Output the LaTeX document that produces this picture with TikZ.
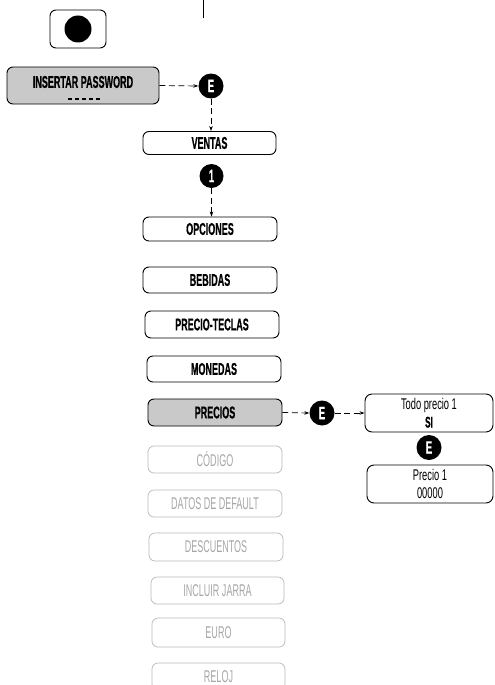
\documentclass[tikz,border=0pt]{standalone}
\usepackage{fontspec}
\newfontfamily\cond{Liberation Sans}[FakeStretch=0.53, BoldFeatures={FakeBold=0.6}]
\newfontfamily\condl{Liberation Sans}[FakeStretch=0.6, BoldFeatures={FakeBold=0.6}]
\usetikzlibrary{arrows.meta}
\definecolor{panelgray}{HTML}{C9C9C9}
\definecolor{offline}{HTML}{B8B8B8}
\definecolor{offtext}{HTML}{A6A6A6}
\begin{document}
\begin{tikzpicture}[x=1pt,y=-1pt,
  menu/.style={draw=black, line width=0.9pt, rounded corners=6pt,
    minimum width=134pt, minimum height=26pt, inner sep=0pt,
    font=\cond\fontsize{17}{18}\selectfont\bfseries},
  active/.style={menu, fill=panelgray},
  inactive/.style={menu, draw=offline, line width=0.7pt, text=offtext,
    font=\cond\fontsize{17}{18}\selectfont},
  display/.style={draw=black, line width=0.9pt, rounded corners=7pt,
    minimum width=128pt, minimum height=38pt, inner sep=0pt, align=center,
    font=\condl\fontsize{15.5}{18}\selectfont},
  badge/.style={circle, fill=black, minimum size=25pt, inner sep=0pt,
    text=white, font=\cond\fontsize{18}{18}\selectfont\bfseries},
  flow/.style={dash pattern=on 6pt off 3.5pt, line width=0.7pt,
    -{Stealth[length=5pt,width=3.5pt]}},
]
\useasboundingbox (0,0) rectangle (495,685);
\clip (0,0) rectangle (495,685);

% feed wire at the top
\coordinate (wireTop) at (203,0);
\coordinate (wireEnd) at (203,18);
\draw[line width=0.8pt] (wireTop) -- (wireEnd);

% power key
\node[draw=black, line width=0.9pt, rounded corners=6pt,
  minimum width=56pt, minimum height=38pt] (power) at (78,29) {};
\node[circle, fill=black, minimum size=27pt, inner sep=0pt] (powerdot) at (power.center) {};

% password entry
\node[active, minimum width=152pt, minimum height=37pt] (pw) at (83,85.5) {};
\node[font=\cond\fontsize{17}{18}\selectfont\bfseries, inner sep=0pt] (pwtext) at (83,82) {INSERTAR PASSWORD};
\draw[dash pattern=on 3.5pt off 3.5pt, line width=1.8pt] (68,99) -- (100,99);

\node[badge] (e1) at (211,86) {E};

% main menu
\node[menu, minimum width=133pt, minimum height=23pt] (ventas) at (209.5,143) {VENTAS};
\node[badge, minimum size=24pt] (one) at (211.5,176) {1};
\node[menu, minimum height=24pt] (opciones) at (210,229) {OPCIONES};
\node[menu] (bebidas) at (210,280) {BEBIDAS};
\node[menu, minimum height=27pt] (teclas) at (212,324.5) {PRECIO-TECLAS};
\node[menu] (monedas) at (214,369) {MONEDAS};
\node[active, minimum height=27pt] (precios) at (215,412.5) {PRECIOS};
\node[inactive, minimum height=27pt] (codigo) at (215,459.5) {CÓDIGO};
\node[inactive, minimum height=27pt] (datos) at (215,503.5) {DATOS DE DEFAULT};
\node[inactive, minimum height=28pt] (descuentos) at (216,547) {DESCUENTOS};
\node[inactive, minimum width=133pt, minimum height=27pt] (jarra) at (217.5,590.5) {INCLUIR JARRA};
\node[inactive, minimum width=133pt, minimum height=29pt] (euro) at (218.5,632.5) {EURO};
\node[inactive, minimum width=133pt, minimum height=27pt] (reloj) at (218.5,676.5) {RELOJ};

% price sub-menu
\node[badge] (e2) at (322,413) {E};
\node[display] (todo) at (429,413) {Todo precio 1\\{\cond\bfseries SI}};
\node[badge] (e3) at (429,447.5) {E};
\node[display, minimum width=126pt] (precio1) at (430,484) {Precio 1\\00000};

% connectors
\draw[flow] (pw.east) -- (e1.west);
\draw[flow] (e1.south) -- (e1 |- ventas.north);
\draw[flow] (one.south) -- (one |- opciones.north);
\draw[flow] (precios.east) -- (e2.west);
\draw[flow] (e2.east) -- (todo.west);
\end{tikzpicture}
\end{document}
